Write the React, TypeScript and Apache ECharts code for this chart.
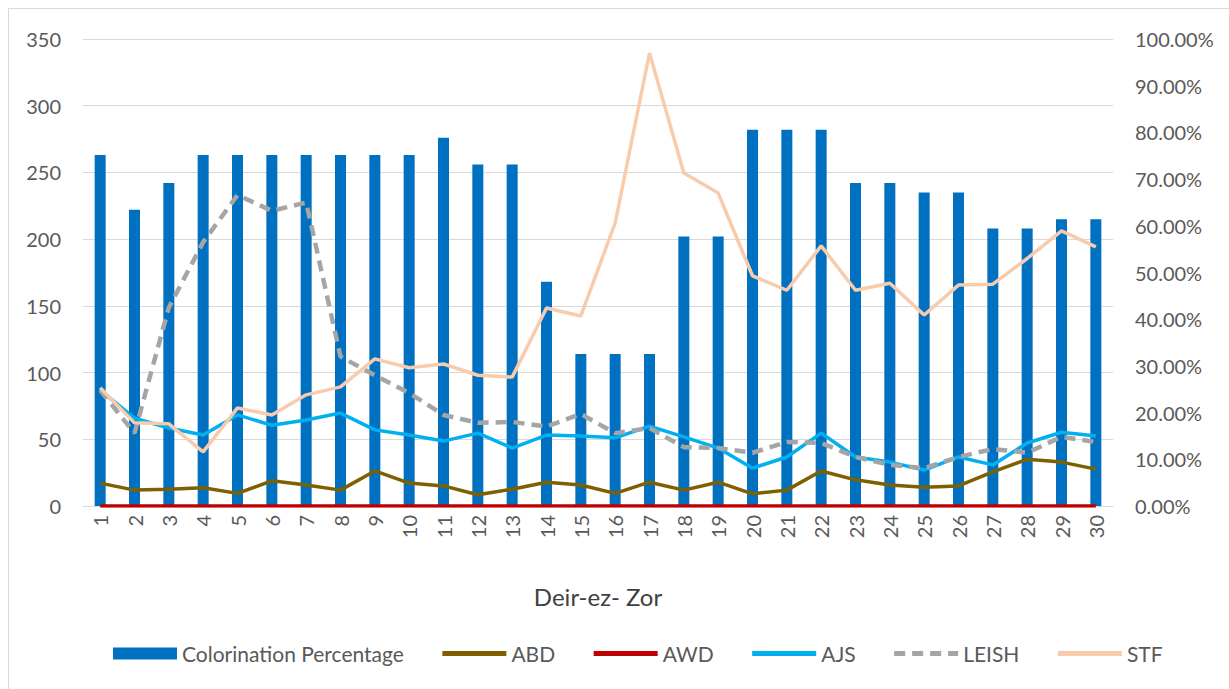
import React, { useEffect, useRef } from "react";
import * as echarts from "echarts";

const categories = Array.from({ length: 30 }, (_, i) => String(i + 1));
const leftTicks = [0, 50, 100, 150, 200, 250, 300, 350];

const colorination = [263, 222, 242, 263, 263, 263, 263, 263, 263, 263, 276, 256, 256, 168, 114, 114, 114, 202, 202, 282, 282, 282, 242, 242, 235, 235, 208, 208, 215, 215];
// line series in percent (right axis)
const abd = [4.9, 3.4, 3.6, 3.9, 2.7, 5.4, 4.5, 3.4, 7.5, 4.9, 4.3, 2.4, 3.6, 5.1, 4.5, 2.7, 5.1, 3.4, 5.1, 2.6, 3.4, 7.5, 5.6, 4.5, 4.0, 4.3, 7.3, 10.0, 9.4, 7.9];
const awd = [0, 0, 0, 0, 0, 0, 0, 0, 0, 0, 0, 0, 0, 0, 0, 0, 0, 0, 0, 0, 0, 0, 0, 0, 0, 0, 0, 0, 0, 0];
const ajs = [24.8, 18.8, 16.7, 15.2, 19.5, 17.3, 18.4, 19.9, 16.3, 15.2, 13.9, 15.6, 12.4, 15.2, 15.0, 14.6, 17.1, 14.8, 12.4, 8.1, 10.5, 15.6, 10.5, 9.4, 7.7, 10.5, 8.8, 13.5, 15.8, 15.0];
const leish = [24.8, 15.6, 42.5, 56.5, 66.6, 63.2, 65.0, 32.0, 28.0, 24.2, 19.5, 17.8, 18.0, 17.0, 19.7, 15.6, 16.7, 12.6, 12.4, 11.4, 13.7, 13.5, 10.5, 8.8, 8.1, 10.5, 12.2, 11.4, 14.8, 13.7];
const stf = [25.3, 17.8, 17.6, 11.6, 21.0, 19.5, 23.8, 25.5, 31.5, 29.6, 30.4, 28.0, 27.6, 42.4, 40.7, 60.6, 97.0, 71.3, 67.0, 49.3, 46.2, 55.7, 46.2, 47.7, 40.9, 47.3, 47.5, 53.0, 58.9, 55.5];

const FONT = "Lato";
const GREY = "#595959";

export default function App() {
  const ref = useRef<HTMLDivElement>(null);
  useEffect(() => {
    if (!ref.current) return;
    const chart = echarts.init(ref.current, null, { renderer: "svg" });
    const pct = (a: number[]) => a.map((v) => v / 100);
    const lineBase = { type: "line", yAxisIndex: 1, symbol: "none", showSymbol: false, z: 3 };
    const hiddenSym = { opacity: 0 };
    chart.setOption({
      animation: false,
      backgroundColor: "#ffffff",
      textStyle: { fontFamily: FONT },
      grid: { left: 83, right: 116, top: 39, bottom: 183, containLabel: false },
      graphic: [
        {
          type: "rect",
          shape: { x: 8.5, y: 8.5, width: 1240, height: 700 },
          style: { fill: "none", stroke: "#d9d9d9", lineWidth: 1 },
          silent: true,
          z: -1,
        },
      ],
      legend: {
        left: 108,
        top: 638,
        itemWidth: 64,
        itemHeight: 12,
        itemGap: 36,
        lineStyle: { width: 5 },
        textStyle: { fontFamily: FONT, fontSize: 21, color: GREY },
        data: [
          { name: "Colorination Percentage", icon: "rect" },
          { name: "ABD", itemStyle: hiddenSym },
          { name: "AWD", itemStyle: hiddenSym },
          { name: "AJS", itemStyle: hiddenSym },
          { name: "LEISH", itemStyle: hiddenSym },
          { name: "STF", itemStyle: hiddenSym },
        ],
      },
      xAxis: {
        type: "category",
        data: categories,
        boundaryGap: true,
        axisLine: { show: true, lineStyle: { color: "#d9d9d9" } },
        axisTick: { show: false },
        axisLabel: { rotate: 90, margin: 9, fontFamily: FONT, fontSize: 20, color: GREY, interval: 0 },
        name: "Deir-ez- Zor",
        nameLocation: "middle",
        nameGap: 78,
        nameTextStyle: { fontFamily: FONT, fontSize: 24, color: "#404040" },
      },
      yAxis: [
        {
          type: "value",
          min: leftTicks[0],
          max: leftTicks[leftTicks.length - 1],
          interval: 50,
          axisLine: { show: false },
          axisTick: { show: false },
          axisLabel: { margin: 22, fontFamily: FONT, fontSize: 20, color: GREY },
          splitLine: { lineStyle: { color: "#d9d9d9" } },
        },
        {
          type: "value",
          min: 0,
          max: 1,
          interval: 0.1,
          position: "right",
          axisLine: { show: false },
          axisTick: { show: false },
          splitLine: { show: false },
          axisLabel: {
            margin: 22,
            fontFamily: FONT,
            fontSize: 20,
            color: GREY,
            formatter: (v: number) => (v * 100).toFixed(2) + "%",
          },
        },
      ],
      series: [
        {
          name: "Colorination Percentage",
          type: "bar",
          yAxisIndex: 0,
          data: colorination,
          barWidth: 11,
          itemStyle: { color: "#0070c0" },
          z: 2,
        },
        { ...lineBase, name: "ABD", data: pct(abd), lineStyle: { color: "#7f6000", width: 3.5 }, itemStyle: { color: "#7f6000" } },
        { ...lineBase, name: "AWD", data: pct(awd), lineStyle: { color: "#c00000", width: 3.5 }, itemStyle: { color: "#c00000" } },
        { ...lineBase, name: "AJS", data: pct(ajs), lineStyle: { color: "#00b0f0", width: 3.5 }, itemStyle: { color: "#00b0f0" } },
        { ...lineBase, name: "LEISH", data: pct(leish), lineStyle: { color: "#a5a5a5", width: 4.5, type: [11, 7] }, itemStyle: { color: "#a5a5a5" } },
        { ...lineBase, name: "STF", data: pct(stf), lineStyle: { color: "#f8cbad", width: 3.5 }, itemStyle: { color: "#f8cbad" } },
      ],
    });
    return () => chart.dispose();
  }, []);
  return (
    <div
      ref={ref}
      style={{ position: "absolute", left: 0, top: 0, width: 1229, height: 689 }}
    />
  );
}
